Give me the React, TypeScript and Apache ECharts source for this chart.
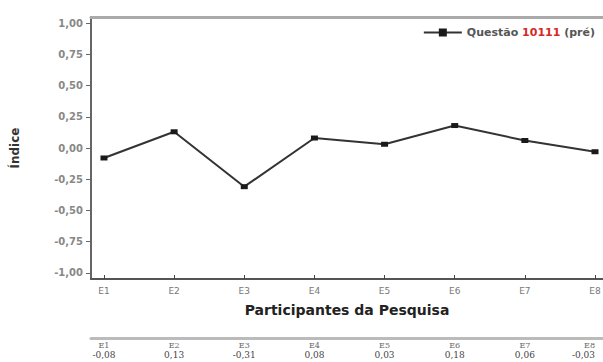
import React, { useEffect, useRef } from "react";
import * as echarts from "echarts";

const categories = ["E1", "E2", "E3", "E4", "E5", "E6", "E7", "E8"];
const values = [-0.08, 0.13, -0.31, 0.08, 0.03, 0.18, 0.06, -0.03];
const yTicks = [-1, -0.75, -0.5, -0.25, 0, 0.25, 0.5, 0.75, 1];
const xPositions = [1, 2, 3, 4, 5, 6, 7, 8];
const seriesName = "Questão 10111 (pré)";

const fmtComma = (v: number) => v.toFixed(2).replace(".", ",");

export default function App() {
  const ref = useRef<HTMLDivElement>(null);
  useEffect(() => {
    if (!ref.current) return;
    const chart = echarts.init(ref.current, null, { renderer: "svg" });
    const sans = "DejaVu Sans";
    chart.setOption({
      animation: false,
      backgroundColor: "#ffffff",
      grid: { left: 91, right: 0, top: 17, bottom: 83, outerBoundsMode: "none", containLabel: false },
      legend: {
        right: 3,
        top: 22,
        itemWidth: 38,
        itemHeight: 10,
        itemGap: 6,
        data: [{ name: seriesName }],
        formatter: () => "{a|Questão }{b|10111}{a| (pré)}",
        textStyle: {
          rich: {
            a: { fontFamily: sans, fontWeight: "bold", fontSize: 11, color: "#555" },
            b: { fontFamily: sans, fontWeight: "bold", fontSize: 11, color: "#d42a2a" },
          },
        },
      },
      xAxis: [
        {
          type: "value",
          min: 0.815,
          max: 8.114,
          position: "bottom",
          name: "Participantes da Pesquisa",
          nameLocation: "middle",
          nameGap: 24,
          nameTextStyle: { fontFamily: sans, fontWeight: "bold", fontSize: 14, color: "#222" },
          axisLine: { show: true, onZero: false, lineStyle: { color: "#555", width: 2 } },
          axisTick: { show: true, inside: true, length: 4, customValues: xPositions, lineStyle: { color: "#444" } },
          axisLabel: {
            customValues: xPositions,
            formatter: (v: number) => categories[Math.round(v) - 1] ?? "",
            fontFamily: sans,
            fontSize: 9,
            color: "#777",
            margin: 7,
          },
          splitLine: { show: false },
        },
        {
          type: "value",
          min: 0.815,
          max: 8.114,
          position: "top",
          axisLine: { show: true, onZero: false, lineStyle: { color: "#aaa", width: 3 } },
          axisTick: { show: false },
          axisLabel: { show: false },
          splitLine: { show: false },
        },
        {
          type: "value",
          min: 0.815,
          max: 8.114,
          position: "bottom",
          offset: 59,
          axisLine: { show: true, onZero: false, lineStyle: { color: "#bbb", width: 3 } },
          axisTick: { show: false },
          axisLabel: {
            customValues: xPositions,
            margin: 2,
            alignMaxLabel: "right",
            formatter: (v: number) => {
              const i = Math.round(v) - 1;
              return `{h|${categories[i]}}\n{v|${fmtComma(values[i])}}`;
            },
            rich: {
              h: { fontFamily: "DejaVu Serif", fontSize: 8, color: "#666", lineHeight: 10 },
              v: { fontFamily: "DejaVu Serif", fontSize: 9, color: "#444", lineHeight: 10 },
            },
          },
          splitLine: { show: false },
        },
      ],
      yAxis: {
        type: "value",
        min: -1.05,
        max: 1.05,
        name: "Índice",
        nameLocation: "middle",
        nameGap: 70,
        nameRotate: 90,
        nameTextStyle: { fontFamily: sans, fontWeight: "bold", fontSize: 12, color: "#333" },
        axisLine: { show: true, onZero: false, lineStyle: { color: "#666", width: 2 } },
        axisTick: { show: true, inside: false, length: 5, customValues: yTicks, lineStyle: { color: "#666" } },
        axisLabel: {
          customValues: yTicks,
          formatter: (v: number) => fmtComma(v),
          fontFamily: sans,
          fontWeight: "bold",
          fontSize: 10,
          color: "#888",
          margin: 8,
        },
        splitLine: { show: false },
      },
      series: [
        {
          name: seriesName,
          type: "line",
          xAxisIndex: 0,
          data: values.map((v, i) => [xPositions[i], v]),
          symbol: "rect",
          symbolSize: [7, 5],
          itemStyle: { color: "#1a1a1a" },
          lineStyle: { color: "#333", width: 2 },
        },
      ],
    });
    return () => chart.dispose();
  }, []);
  return (
    <div
      ref={ref}
      style={{ position: "fixed", left: 0, top: 0, width: 603, height: 362 }}
    />
  );
}
